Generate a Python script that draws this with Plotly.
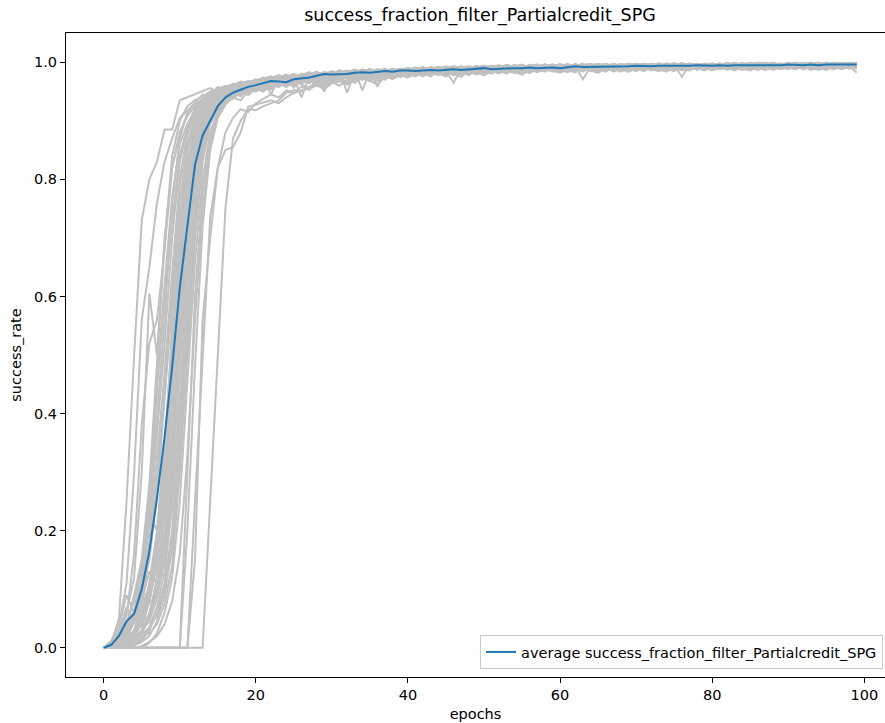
import plotly.graph_objects as go

TITLE = "success_fraction_filter_Partialcredit_SPG"
X_LABEL = "epochs"
Y_LABEL = "success_rate"
X_TICKS = [0, 20, 40, 60, 80, 100]
Y_TICKS = [0.0, 0.2, 0.4, 0.6, 0.8, 1.0]

# Per-run success rate, in thousandths, ten epochs per "|" block (epochs 0-99).
RUNS = [
    "0 8 50 250 500 730 800 830 885 885 | 935 940 946 950 956 948 958 962 957 965 | 968 963 970 966 972 975 969 974 978 975 | 980 976 982 979 984 980 983 986 981 985 | 987 983 988 985 987 990 985 989 987 991 | 989 990 992 987 991 993 989 992 988 993 | 991 994 991 989 993 995 991 994 990 995 | 993 994 996 991 995 992 996 994 991 995 | 997 993 996 992 995 997 993 996 994 997 | 993 996 998 994 997 993 996 998 994 982",
    "0 5 20 60 120 300 605 500 700 820 | 880 910 925 938 945 952 948 957 962 955 | 964 968 960 971 967 973 970 976 972 978 | 975 980 977 983 979 982 985 980 986 983 | 985 988 984 990 986 989 987 991 988 986 | 990 992 988 991 993 989 994 990 992 995 | 991 993 996 990 994 992 995 991 996 993 | 995 992 996 994 997 993 995 998 994 996 | 993 997 995 992 996 998 994 997 995 993 | 997 994 998 995 996 999 994 997 995 998",
    "0 3 15 40 80 150 280 480 690 840 | 900 925 935 942 950 955 960 956 963 967 | 962 970 945 973 976 970 977 974 979 976 | 981 978 984 980 983 986 982 985 988 983 | 987 984 989 986 990 987 985 991 988 992 | 988 991 993 990 988 994 991 993 989 995 | 992 995 990 994 996 991 993 995 992 996 | 994 991 996 993 997 995 992 996 994 998 | 995 993 997 996 994 998 995 997 993 996 | 998 995 997 994 999 996 993 997 998 995",
    "0 2 10 30 55 110 230 400 560 760 | 870 915 930 945 940 952 958 962 955 966 | 969 964 972 968 975 971 977 973 969 980 | 976 982 978 984 981 979 986 983 987 984 | 982 988 985 990 986 989 992 987 990 988 | 992 989 991 994 990 993 988 994 991 993 | 995 990 993 996 992 995 990 994 997 993 | 996 993 995 991 997 994 996 993 998 995 | 992 996 994 998 995 993 997 995 998 994 | 996 999 995 997 994 998 996 993 997 999",
    "0 0 5 20 45 90 180 320 470 640 | 800 880 920 935 948 944 955 960 964 958 | 967 971 965 974 970 976 972 979 975 981 | 977 983 979 985 982 980 987 984 988 985 | 989 984 990 987 985 991 988 992 989 987 | 993 990 992 988 994 991 995 989 993 990 | 994 996 992 995 990 996 993 997 994 991 | 996 994 998 993 995 997 975 996 994 997 | 995 998 994 996 993 997 999 995 996 994 | 998 995 997 999 994 996 998 995 997 996",
    "0 4 25 70 40 95 150 260 420 590 | 760 860 905 930 945 953 948 959 965 962 | 968 973 966 975 971 969 978 974 980 977 | 973 982 979 984 980 986 983 981 987 984 | 988 985 990 986 991 988 984 992 989 991 | 987 992 994 990 993 989 995 992 990 994 | 996 991 994 992 997 993 995 990 996 994 | 992 997 995 993 998 994 996 992 997 995 | 998 994 996 999 993 997 995 998 994 996 | 995 998 994 997 999 995 996 998 994 997",
    "0 0 8 15 30 70 160 290 450 620 | 790 875 912 932 946 958 952 963 960 968 | 964 972 969 961 976 973 940 975 982 979 | 984 976 981 985 983 988 980 986 984 989 | 985 990 987 983 991 988 993 989 986 992 | 990 994 988 992 995 991 989 994 992 996 | 993 990 995 992 996 994 991 997 993 995 | 998 994 996 993 995 998 992 997 995 993 | 997 995 999 994 996 998 995 993 997 996 | 994 998 996 999 995 997 994 998 996 995",
    "0 0 3 12 25 60 110 200 350 520 | 700 830 890 925 940 950 957 962 958 966 | 970 965 974 968 977 973 979 976 972 981 | 978 983 980 986 982 985 979 987 984 988 | 986 991 987 989 985 992 988 990 993 989 | 991 993 989 995 992 990 994 991 996 993 | 990 995 993 997 991 994 996 992 995 998 | 993 996 994 991 997 995 993 998 996 994 | 997 993 996 998 995 994 997 999 995 996 | 998 994 997 995 999 996 993 998 995 997",
    "0 6 18 35 60 90 75 180 330 540 | 720 850 900 928 942 936 954 961 967 963 | 971 967 963 975 972 978 974 970 981 977 | 983 979 975 984 981 987 958 986 980 988 | 984 989 986 991 987 984 990 988 992 989 | 993 988 991 995 990 993 989 994 992 990 | 996 993 991 995 997 992 994 996 990 995 | 993 997 995 992 996 994 998 995 993 996 | 995 998 993 997 995 999 994 996 998 995 | 997 995 998 994 996 999 995 997 993 998",
    "0 0 2 8 20 40 80 150 270 430 | 620 790 875 915 935 948 955 951 962 968 | 963 971 967 974 979 970 976 982 973 950 | 984 980 977 985 982 988 984 981 986 989 | 983 988 991 986 990 987 993 989 985 991 | 994 990 992 988 995 991 993 996 990 993 | 991 996 994 990 995 997 992 994 996 993 | 997 992 995 998 994 996 993 997 995 992 | 996 998 994 997 993 996 999 995 997 994 | 999 996 994 998 995 997 999 994 996 998",
    "0 3 10 22 45 70 100 170 280 450 | 640 800 880 918 938 945 953 960 957 965 | 969 974 966 972 977 971 980 975 978 983 | 979 975 984 981 986 982 978 987 985 983 | 989 985 988 991 984 990 987 992 988 986 | 991 994 989 993 990 995 992 988 994 991 | 995 992 996 990 994 993 997 991 995 994 | 992 996 994 998 993 995 997 994 991 996 | 998 994 995 997 993 998 996 994 999 995 | 996 993 998 995 997 994 999 996 998 995",
    "0 0 0 5 15 30 60 110 200 350 | 540 730 850 905 930 945 950 958 963 956 | 966 970 975 968 973 979 974 977 982 976 | 980 985 948 983 987 981 984 988 982 986 | 990 986 983 989 992 987 990 985 991 988 | 993 989 991 995 988 992 994 990 993 996 | 992 994 990 996 993 995 991 997 994 992 | 996 993 997 995 992 998 994 996 993 997 | 994 997 995 998 996 993 997 995 999 996 | 993 997 999 995 998 996 994 997 999 996",
    "0 2 6 15 28 45 55 120 230 380 | 560 740 860 910 932 941 952 947 960 966 | 962 969 973 967 976 971 978 983 975 980 | 977 983 986 979 984 988 982 985 980 987 | 984 989 986 992 988 985 991 989 993 987 | 990 993 991 988 994 990 996 992 989 994 | 996 991 994 997 992 995 993 990 996 994 | 991 995 997 993 996 994 998 992 995 997 | 994 996 998 995 993 997 995 998 994 997 | 995 999 996 993 998 995 997 999 994 996",
    "0 0 0 3 10 25 50 90 160 290 | 480 680 820 890 925 942 949 956 962 958 | 967 963 971 976 969 974 980 972 977 983 | 979 986 981 976 985 982 988 983 986 981 | 987 991 985 989 986 992 988 990 984 991 | 989 993 995 990 992 988 994 991 995 992 | 994 990 996 993 991 997 994 992 996 995 | 993 997 991 996 994 998 993 995 997 994 | 997 995 993 998 996 994 999 995 997 993 | 996 998 995 997 994 999 996 998 995 997",
    "0 5 12 30 55 35 80 140 120 300 | 500 700 835 895 928 944 938 955 961 965 | 960 968 974 970 965 977 973 979 975 981 | 984 978 982 987 952 985 983 979 988 984 | 986 990 984 988 992 987 989 993 985 990 | 992 988 994 991 989 995 990 993 991 996 | 993 995 991 994 997 992 996 990 995 993 | 997 994 992 996 993 998 995 997 992 996 | 995 997 994 996 999 995 993 997 996 998 | 994 997 995 998 996 994 999 997 995 998",
    "0 0 0 2 6 15 35 70 130 240 | 410 620 780 870 915 936 948 955 952 963 | 968 972 966 975 970 978 974 980 976 971 | 983 979 985 981 977 986 983 988 984 982 | 988 985 990 987 991 984 989 992 987 990 | 994 990 988 993 991 995 989 992 996 991 | 993 996 992 995 990 994 997 993 995 991 | 996 994 997 992 995 993 998 996 994 997 | 993 996 998 994 997 995 993 998 996 994 | 998 995 997 999 994 996 998 995 997 999",
    "0 1 4 10 18 30 45 85 150 260 | 430 640 800 880 920 939 946 958 964 960 | 969 965 973 978 971 976 972 981 977 983 | 980 976 984 987 982 979 986 983 989 985 | 983 988 991 986 989 993 987 990 986 992 | 990 993 989 995 992 994 990 988 995 993 | 997 992 995 993 990 996 994 997 992 995 | 994 998 993 996 995 991 997 994 996 993 | 998 995 997 993 996 999 994 997 995 998 | 996 994 998 996 999 995 997 994 998 996",
    "0 0 0 0 4 10 20 45 90 170 | 320 530 720 840 900 930 945 952 960 956 | 965 970 964 974 969 977 972 979 975 982 | 978 984 980 986 976 983 988 985 981 987 | 990 986 984 991 988 985 965 989 987 993 | 991 988 994 990 993 995 989 992 994 990 | 995 993 997 991 994 996 993 995 990 997 | 993 996 994 998 992 995 997 994 996 993 | 997 994 998 996 993 997 995 999 994 996 | 999 995 997 994 998 996 999 995 997 994",
    "0 2 5 9 14 22 35 55 100 190 | 350 560 740 850 905 928 942 950 958 964 | 960 968 973 966 975 980 971 977 983 978 | 974 985 981 987 983 980 986 989 982 985 | 988 984 990 986 992 989 985 991 988 994 | 989 992 990 995 991 988 993 996 992 990 | 994 997 991 993 995 992 996 994 991 997 | 995 993 996 994 998 992 995 997 993 996 | 994 998 995 997 993 996 998 994 997 995 | 997 994 999 996 993 998 995 997 999 996",
    "0 0 0 0 0 0 8 25 60 120 | 250 450 660 800 880 918 938 950 945 958 | 963 967 960 972 968 975 970 978 974 980 | 976 983 979 972 985 981 987 983 986 980 | 986 990 984 988 991 987 983 992 988 990 | 993 989 991 995 988 994 990 992 996 991 | 990 995 993 971 992 994 997 991 995 993 | 996 992 997 994 996 993 998 995 992 997 | 994 997 995 999 993 996 998 995 997 994 | 998 996 993 997 999 995 997 996 998 994",
    "0 0 0 0 0 3 10 20 40 80 | 160 330 560 750 860 910 935 948 955 962 | 958 966 971 964 974 969 976 981 973 978 | 983 977 985 980 984 988 981 986 983 979 | 989 985 991 987 984 990 993 988 986 991 | 994 990 988 993 991 995 992 989 994 992 | 996 991 994 997 993 990 995 992 996 994 | 992 996 994 997 993 995 998 994 996 992 | 997 995 993 998 996 994 997 999 995 996 | 995 998 996 994 999 997 995 998 996 993",
    "0 0 0 0 0 0 0 0 0 0 | 0 300 600 780 870 915 940 951 946 960 | 965 961 970 975 967 973 978 971 976 982 | 979 984 975 982 987 983 980 986 984 989 | 985 988 991 986 990 987 993 984 989 992 | 990 994 991 988 993 996 990 992 995 989 | 994 991 996 993 995 990 997 994 992 996 | 995 993 997 991 996 994 998 993 996 995 | 992 997 994 998 995 993 997 996 999 994 | 997 999 995 996 998 994 997 999 995 997",
    "0 0 0 0 0 0 0 0 0 0 | 0 0 250 500 736 820 850 855 880 924 | 928 932 935 930 940 948 952 956 960 955 | 964 968 962 970 974 968 977 972 979 975 | 981 977 983 979 985 982 986 980 987 984 | 988 985 990 986 989 992 987 990 988 993 | 990 993 989 995 991 994 992 996 990 994 | 996 992 995 993 997 994 991 996 994 997 | 993 996 998 994 996 992 997 995 998 995 | 997 994 996 999 995 997 993 998 996 994",
    "0 0 0 0 0 0 0 0 0 0 | 0 0 0 0 250 500 750 870 900 920 | 918 925 930 935 948 952 950 958 963 960 | 967 971 965 974 970 977 973 979 982 976 | 983 979 985 981 987 984 980 988 985 990 | 986 989 992 987 991 988 993 990 994 989 | 992 995 991 994 996 990 995 993 997 992 | 995 997 993 996 994 998 992 996 995 993 | 997 994 998 995 993 997 996 999 994 996 | 998 995 997 994 999 996 998 995 997 993",
    "0 0 4 12 25 50 95 190 330 500 | 680 820 885 920 937 949 944 957 963 968 | 964 972 976 969 974 980 975 971 983 978 | 985 981 977 986 983 988 980 984 987 982 | 989 986 992 987 984 990 988 993 986 991 | 988 993 990 995 992 989 994 991 996 990 | 995 992 996 990 994 997 993 995 991 996 | 994 997 992 995 998 993 996 994 997 991 | 996 993 998 995 997 994 999 996 993 997 | 995 998 994 997 996 999 995 993 998 996",
    "0 10 30 20 55 100 210 360 520 700 | 830 890 920 936 947 943 956 961 966 959 | 970 965 973 977 968 975 971 979 984 976 | 981 986 978 983 988 982 979 985 989 984 | 987 982 990 986 992 988 985 991 989 993 | 990 994 988 992 995 991 993 989 996 992 | 993 990 996 994 991 995 997 992 994 996 | 997 994 991 996 993 998 995 992 997 994 | 995 998 994 996 993 998 997 995 999 994 | 996 993 998 995 997 999 994 996 998 995",
    "0 12 40 110 300 560 650 760 830 870 | 905 918 930 926 941 935 950 945 958 952 | 961 955 966 958 969 963 972 966 975 970 | 968 976 972 979 974 981 976 970 983 978 | 980 985 977 983 987 980 985 979 988 983 | 986 981 988 984 990 985 982 989 986 991 | 984 989 992 986 990 983 991 988 993 987 | 990 985 992 988 994 986 991 989 993 990 | 987 992 989 994 990 986 993 991 995 988 | 993 990 995 987 992 994 989 993 991 995",
    "0 8 35 90 60 140 250 460 620 770 | 860 895 918 930 922 940 936 948 943 955 | 950 960 954 964 958 968 962 955 970 965 | 973 967 976 970 978 973 968 980 975 982 | 977 983 979 985 980 976 986 981 984 979 | 987 982 985 989 983 987 990 984 988 985 | 990 986 983 991 987 989 984 992 988 986 | 991 987 993 989 985 992 990 994 988 991 | 989 993 987 992 995 990 988 993 991 994 | 990 994 988 993 991 995 989 992 996 990",
    "0 0 6 20 50 120 260 440 600 730 | 840 890 912 925 937 931 945 952 947 958 | 953 962 957 966 960 970 964 973 967 962 | 975 970 978 972 980 974 977 982 976 984 | 979 985 981 976 986 982 988 983 980 987 | 984 989 985 982 990 986 988 984 991 987 | 989 985 992 987 990 986 993 988 984 991 | 987 992 989 985 993 990 988 994 989 992 | 990 994 988 992 990 995 987 993 991 989 | 994 990 992 996 989 993 991 995 990 993",
    "0 3 10 40 90 150 230 200 320 550 | 730 850 895 920 933 945 940 950 957 951 | 960 955 964 970 958 967 972 965 975 969 | 977 972 966 979 974 982 976 980 973 983 | 978 984 980 986 981 978 987 983 985 980 | 988 983 986 990 985 982 989 986 991 984 | 987 991 985 989 993 986 990 988 992 985 | 990 993 987 991 989 994 986 992 990 988 | 993 989 994 988 991 995 990 987 993 992 | 989 994 991 995 988 992 994 990 993 991",
    "0 0 2 10 30 55 100 170 300 470 | 660 800 870 905 925 938 933 947 953 960 | 956 963 968 960 971 966 974 969 962 977 | 972 979 975 982 977 971 983 979 985 980 | 976 983 987 981 985 979 988 984 982 989 | 985 988 983 990 986 989 984 991 988 985 | 991 987 989 984 992 988 990 986 993 989 | 988 992 986 994 990 987 993 989 991 995 | 987 991 994 989 992 988 995 991 990 993 | 991 988 994 990 996 992 989 993 995 990",
    "0 7 20 15 45 80 130 110 250 420 | 590 760 860 900 920 936 930 944 951 957 | 952 961 966 958 969 963 972 976 967 974 | 970 977 981 974 979 976 983 978 972 984 | 981 986 979 984 988 982 985 980 987 983 | 986 990 984 988 985 991 983 989 987 990 | 985 990 987 992 986 989 993 984 990 988 | 992 988 990 986 993 989 991 995 987 992 | 990 993 989 991 994 988 992 990 995 989 | 993 990 995 991 988 994 992 989 993 996",
    "0 0 0 4 12 28 55 100 180 320 | 520 710 835 890 917 931 942 937 950 956 | 962 957 965 971 963 968 974 966 977 971 | 968 975 980 973 978 983 976 981 977 985 | 980 984 978 986 982 987 981 985 989 983 | 987 984 989 985 982 990 986 988 984 991 | 988 984 990 987 992 985 989 991 986 993 | 989 991 987 993 988 990 994 986 992 990 | 992 988 994 990 987 993 991 995 989 992 | 990 994 989 992 995 991 988 994 990 993",
    "0 4 14 28 22 50 90 160 140 280 | 490 670 810 880 912 928 940 948 942 955 | 960 953 966 962 970 957 973 968 976 971 | 974 969 978 982 975 980 971 984 979 976 | 983 979 986 981 984 988 980 985 982 987 | 984 989 986 981 990 985 988 983 991 986 | 990 986 988 992 985 990 987 993 989 984 | 991 988 993 986 990 992 989 987 994 990 | 988 992 990 994 989 987 993 991 988 994 | 992 989 994 991 996 990 993 988 992 995",
    "0 0 0 0 5 12 30 60 110 200 | 380 580 760 860 905 926 938 945 952 948 | 958 963 956 967 961 970 965 973 968 976 | 971 978 973 969 981 976 983 978 985 980 | 976 984 980 986 982 978 987 983 989 985 | 981 987 984 990 986 983 989 985 991 987 | 984 990 987 992 988 985 991 989 993 986 | 990 987 992 989 994 988 991 986 993 990 | 987 993 989 992 995 990 988 994 991 989 | 994 990 993 988 992 995 990 993 989 994",
    "0 0 2 6 10 18 25 40 75 140 | 300 500 700 830 895 920 934 942 949 944 | 955 950 962 958 966 960 970 964 973 968 | 976 970 965 979 974 981 977 972 983 978 | 974 982 978 985 980 987 983 979 986 982 | 988 983 986 981 989 985 990 984 987 991 | 986 989 984 992 987 990 985 993 988 991 | 987 992 989 985 993 990 994 988 991 987 | 993 989 991 995 988 992 990 994 987 993 | 990 995 989 993 991 987 994 992 996 990",
    "0 0 0 0 0 0 0 0 0 0 | 0 200 480 720 850 905 928 940 935 951 | 957 962 954 966 960 969 963 972 966 975 | 969 977 972 980 974 970 982 977 984 979 | 975 983 979 986 981 984 978 987 983 980 | 988 983 986 990 984 987 982 990 986 988 | 984 989 986 991 988 983 992 987 990 985 | 991 987 993 988 990 986 994 989 992 988 | 990 994 988 992 989 995 991 987 993 990 | 989 993 991 995 988 992 994 990 993 989",
    "0 0 0 0 0 0 0 0 0 0 | 0 0 150 560 700 820 880 905 920 915 | 930 938 945 940 952 947 958 953 963 958 | 967 960 970 965 974 968 962 976 971 979 | 974 981 976 983 978 985 980 975 986 982 | 978 985 981 988 983 979 987 984 989 985 | 982 988 984 990 986 982 991 987 989 984 | 990 986 992 988 984 991 987 993 989 986 | 992 988 990 994 987 991 989 993 988 992 | 989 993 990 994 991 988 995 990 992 994",
    "0 5 22 55 160 380 520 560 680 820 | 880 908 925 937 944 950 946 957 952 962 | 957 966 961 969 964 972 967 975 970 964 | 977 972 979 974 982 976 971 983 978 985 | 981 976 984 979 986 982 988 983 978 987 | 983 988 985 990 984 987 982 989 986 990 | 987 983 990 986 992 988 985 991 987 993 | 986 990 988 993 989 985 992 990 994 988 | 991 988 993 989 995 990 987 993 991 989 | 994 990 992 988 995 991 993 989 994 991",
    "0 2 8 30 65 100 80 150 300 480 | 650 780 865 903 926 940 935 949 955 961 | 956 965 960 968 973 964 970 976 969 979 | 973 980 976 970 983 978 985 980 975 986 | 982 977 985 981 988 983 980 987 984 989 | 985 981 988 984 990 986 983 989 987 991 | 988 984 990 986 993 987 990 985 992 988 | 985 991 987 993 989 986 994 990 988 992 | 989 994 990 986 993 991 988 995 990 992 | 993 989 995 991 987 994 992 990 995 991",
]

# Average success rate across runs, per epoch (0-99).
AVERAGE = [
    0.000, 0.005, 0.020, 0.045, 0.058, 0.100, 0.165, 0.255, 0.360, 0.480,
    0.615, 0.725, 0.825, 0.875, 0.900, 0.925, 0.940, 0.948, 0.953, 0.958,
    0.961, 0.964, 0.968, 0.967, 0.966, 0.971, 0.972, 0.974, 0.977, 0.980,
    0.979, 0.979, 0.980, 0.982, 0.983, 0.982, 0.984, 0.985, 0.984, 0.986,
    0.986, 0.985, 0.986, 0.987, 0.986, 0.987, 0.988, 0.987, 0.988, 0.989,
    0.990, 0.988, 0.989, 0.990, 0.990, 0.990, 0.991, 0.990, 0.991, 0.991,
    0.990, 0.991, 0.993, 0.992, 0.992, 0.993, 0.993, 0.992, 0.993, 0.993,
    0.994, 0.993, 0.993, 0.994, 0.994, 0.993, 0.994, 0.994, 0.995, 0.994,
    0.994, 0.995, 0.994, 0.995, 0.995, 0.994, 0.995, 0.995, 0.994, 0.995,
    0.996, 0.995, 0.995, 0.996, 0.995, 0.996, 0.996, 0.995, 0.996, 0.996,
]


def parse_run(text):
    return [int(v) / 1000 for v in text.replace("|", " ").split()]


FONT = "DejaVu Sans, Verdana, sans-serif"

fig = go.Figure()

for run in RUNS:
    values = parse_run(run)
    fig.add_trace(go.Scatter(
        x=list(range(len(values))), y=values, mode="lines",
        line=dict(color="rgb(192,192,192)", width=2),
        showlegend=False, hoverinfo="skip",
    ))

fig.add_trace(go.Scatter(
    x=list(range(len(AVERAGE))), y=AVERAGE, mode="lines",
    line=dict(color="#1f77b4", width=2),
    name="average " + TITLE,
))

axis_common = dict(
    showgrid=False, zeroline=False, showline=True, linecolor="black",
    linewidth=1, ticks="outside", ticklen=5, tickwidth=1, tickcolor="black",
    tickfont=dict(family=FONT, size=14.5, color="black"),
)

fig.update_layout(
    width=885, height=723,
    margin=dict(l=66, r=0, t=33, b=46),
    paper_bgcolor="white", plot_bgcolor="white",
    font=dict(family=FONT, color="black"),
    title=dict(
        text=TITLE, x=0.5055, xref="paper", xanchor="center",
        y=1 - 14.5 / 723, yref="container", yanchor="middle",
        font=dict(family=FONT, size=17.5, color="black"),
    ),
    xaxis=dict(
        axis_common, range=[-4.96, 102.72], tickvals=X_TICKS, mirror=True,
        title=dict(text=X_LABEL, font=dict(family=FONT, size=14.5), standoff=6),
    ),
    yaxis=dict(
        axis_common, range=[-0.05, 1.05], tickvals=Y_TICKS, tickformat=".1f",
        title=dict(text=Y_LABEL, font=dict(family=FONT, size=14.5), standoff=8),
    ),
    legend=dict(
        x=0.9976, xanchor="right", y=0.0124, yanchor="bottom",
        bgcolor="rgba(255,255,255,0.8)", bordercolor="rgb(204,204,204)",
        borderwidth=1, font=dict(family=FONT, size=14.5, color="black"),
        itemwidth=30,
    ),
    showlegend=True,
)

fig.write_html("out.html")
